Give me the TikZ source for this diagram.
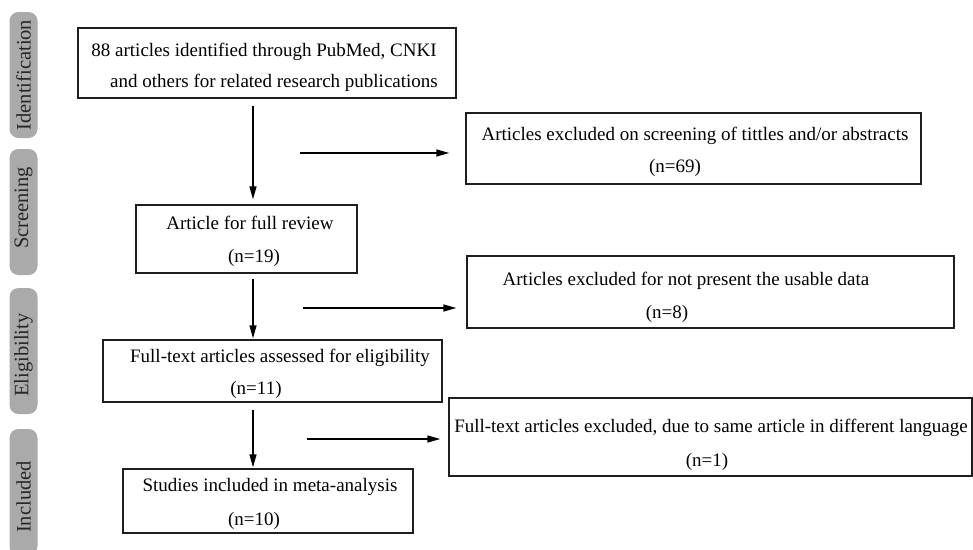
\documentclass[tikz,border=0pt]{standalone}
\usepackage{fontspec}
\setmainfont{Liberation Serif}
\usetikzlibrary{arrows.meta}
\definecolor{sidegray}{RGB}{170,170,170}
\definecolor{linegray}{RGB}{30,30,30}
\tikzset{
  box/.style={draw=linegray, line width=1.4pt, minimum width=#1, inner sep=0pt},
  txt/.style={font=\fontsize{19}{22}\selectfont, inner sep=0pt, text height=13pt, text depth=4pt, anchor=center},
  side/.style={fill=sidegray, rounded corners=9pt, inner sep=0pt, minimum width=28pt, minimum height=126pt},
  sidetxt/.style={font=\fontsize{20.5}{24}\selectfont, rotate=90, inner sep=0pt, text=black!85},
  arr/.style={draw=black, line width=1.4pt, -{Triangle[length=13pt,width=7pt]}}
}
\begin{document}
\begin{tikzpicture}[x=1pt,y=-1pt]
\useasboundingbox (0,0) rectangle (973,549);
% side labels
\node[side] (sIdent) at (23.5,75) {};
\node[sidetxt] (sIdentT) at (23.5,75) {Identification};
\node[side] (sScreen) at (23.5,212) {};
\node[sidetxt] (sScreenT) at (23.5,208) {Screening};
\node[side] (sElig) at (23.5,351) {};
\node[sidetxt] (sEligT) at (23.5,355) {Eligibility};
\node[side] (sIncl) at (23.5,492) {};
\node[sidetxt] (sInclT) at (23.5,497) {Included};
% main boxes
\node[box=378pt, minimum height=70pt] (b1) at (267,63) {};
\node[txt] (b1a) at (264,52) {88 articles identified through PubMed, CNKI};
\node[txt] (b1b) at (274,83) {and others for related research publications};
\node[box=221pt, minimum height=68pt] (b2) at (246.5,239) {};
\node[txt] (b2a) at (250,225) {Article for full review};
\node[txt] (b2b) at (254,258) {(n=19)};
\node[box=339pt, minimum height=62pt] (b3) at (272.5,371) {};
\node[txt] (b3a) at (280,358) {Full-text articles assessed for eligibility};
\node[txt] (b3b) at (256,390) {(n=11)};
\node[box=290pt, minimum height=64pt] (b4) at (268,501) {};
\node[txt] (b4a) at (270,487) {Studies included in meta-analysis};
\node[txt] (b4b) at (254,521) {(n=10)};
% exclusion boxes
\node[box=455pt, minimum height=71pt] (e1) at (693.5,148.5) {};
\node[txt] (e1a) at (695,136) {Articles excluded on screening of tittles and/or abstracts};
\node[txt] (e1b) at (675,168) {(n=69)};
\node[box=487pt, minimum height=72pt] (e2) at (710.5,292) {};
\node[txt] (e2a) at (686,281) {Articles excluded for not present the usable data};
\node[txt] (e2b) at (667,314) {(n=8)};
\node[box=523pt, minimum height=78pt] (e3) at (710.5,437) {};
\node[txt] (e3a) at (711,428) {Full-text articles excluded, due to same article in different language};
\node[txt] (e3b) at (707,462) {(n=1)};
% connectors
\coordinate (vx) at (253,0);
\draw[arr, shorten <=7pt, shorten >=5pt] (b1.south -| vx) -- (b2.north -| vx);
\draw[arr, shorten <=5pt, shorten >=1pt] (b2.south -| vx) -- (b3.north -| vx);
\draw[arr, shorten <=7pt, shorten >=1pt] (b3.south -| vx) -- (b4.north -| vx);
\coordinate (h1) at (300,153);
\coordinate (h2) at (303,308);
\coordinate (h3) at (307,439);
\draw[arr, shorten >=16pt] (h1) -- (h1 -| e1.west);
\draw[arr, shorten >=10pt] (h2) -- (h2 -| e2.west);
\draw[arr, shorten >=8pt] (h3) -- (h3 -| e3.west);
\end{tikzpicture}
\end{document}
